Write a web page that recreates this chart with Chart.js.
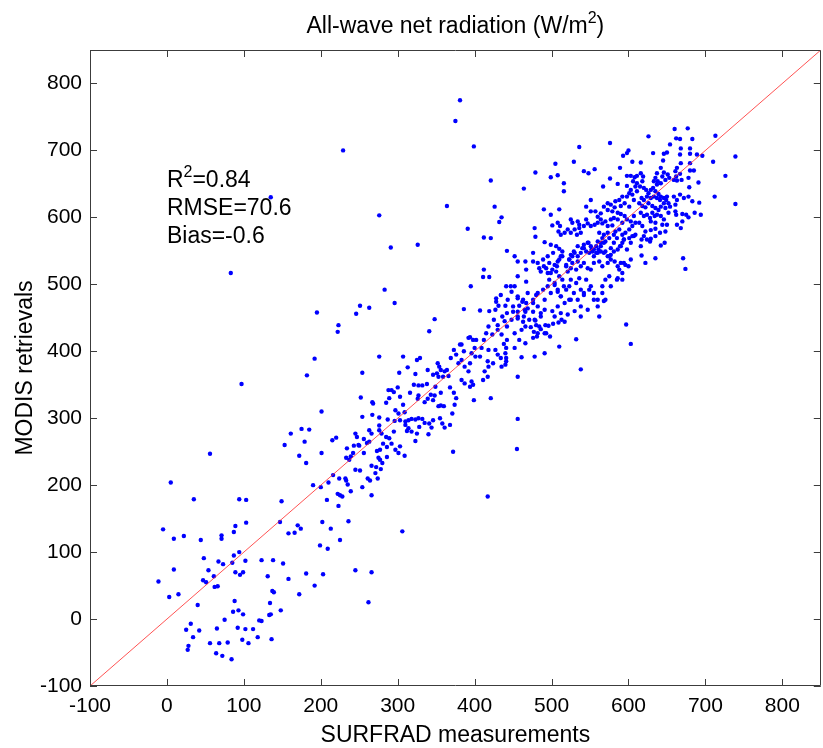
<!DOCTYPE html>
<html>
<head>
<meta charset="utf-8">
<script src="https://cdn.jsdelivr.net/npm/chart.js@4.4.1/dist/chart.umd.min.js"></script>
<style>
  html, body { margin: 0; padding: 0; background: #ffffff; }
  #wrap { width: 823px; height: 748px; }
</style>
</head>
<body>
<div id="wrap"><canvas id="c" width="823" height="748"></canvas></div>
<script>
// ---------------- DATA ----------------
const titleParts = ['All-wave net radiation (W/m', '2', ')'];
const xAxisTitle = 'SURFRAD measurements';
const yAxisTitle = 'MODIS retrievals';
const xTicks = [-100, 0, 100, 200, 300, 400, 500, 600, 700, 800];
const yTicks = [-100, 0, 100, 200, 300, 400, 500, 600, 700, 800];
const axisRange = [-100, 850];
const oneToOne = [-100, 850];
const statsLabels = [['R', '2', '=0.84'], ['RMSE=70.6', '', ''], ['Bias=-0.6', '', '']];

// low values (x < 270)
const surfradA = [201,161,175,185,153,179,172,181,201,215,
  220,56,5,35,94,103,149,190,200,210,
  216,208,222,-5,9,22,44,71,71,87,
  89,103,147,158,166,170,174,202,213,209,
  199,-11,9,3,15,48,54,67,73,47,
  51,61,62,66,85,87,94,102,89,95,
  99,123,138,151,131,158,137,139,181,192,
  203,172,40,88,86,93,99,134,133,135,
  148,120,123,75,25,31,42,34,65,92,
  102,112,118,136,98,106,56,68,79,28,
  27,64,72,84,245,266,262];
const modisA = [310,277,284,283,260,265,244,233,248,267,
  271,247,204,179,179,178,176,200,197,204,
  215,178,187,134,120,124,118,125,120,130,
  139,144,145,128,129,140,135,145,135,105,
  110,56,74,33,37,91,73,86,82,58,
  55,64,48,49,84,95,100,87,70,66,
  70,88,88,83,64,60,42,40,68,50,
  67,37,21,27,11,13,7,24,6,7,
  13,-2,-3,-1,-16,-7,-17,-27,-14,-13,
  -15,-15,-27,-30,-31,-36,-36,-36,-35,-40,
  -46,-51,-55,-60,73,70,25];

// scattered points above the line
const surfradB = [229,135,364,276,291,326,83,97,283,251,
  263,246,296,195,223,222,348,341,192,182,
  276,307,329,325,313,254,302,323,339,381,
  375,399,479,421,464,478,479,426,435,432,
  391,412,421];
const modisB = [700,630,617,603,555,559,517,351,492,468,
  465,456,472,458,439,429,448,430,389,364,
  392,392,390,387,376,368,368,366,372,775,
  744,706,667,655,643,584,571,616,600,593,
  583,570,569];

// cloud 220-380
const surfradC = [288,292,300,295,303,289,285,267,268,252,
  316,321,327,332,338,327,326,339,335,343,
  348,349,356,346,353,356,360,368,373,376,
  374,371,307,297,301,309,267,254,276,287,
  296,303,310,314,318,323,327,332,335,341,
  346,355,358,361,368,344,328,310,314,312,
  318,325,340,323,295,276,276,279,285,289,
  292,286,277,273,281,266,263,263,260,256,
  250,245,247,249,243,242,234,233,237,239,
  256,275,286,280,277,272,278,266,297,303,
  309,301,245,251,232,233,235,224,239,254,
  261,264,274,271,266,225,228,223,236,225,
  306,372];
const modisC = [342,342,346,339,332,330,323,324,322,331,
  338,350,349,349,351,334,329,329,324,335,
  334,347,338,327,318,319,318,346,338,330,
  320,307,320,312,307,309,305,302,301,298,
  296,297,295,297,299,298,300,299,293,292,
  297,300,292,286,290,286,287,290,285,281,
  280,277,276,266,280,289,282,277,272,270,
  262,257,253,251,262,277,282,265,263,269,
  259,277,272,260,259,248,255,241,238,243,
  248,241,242,233,238,227,224,229,253,258,
  244,248,223,222,210,207,201,210,191,197,
  210,207,210,218,185,185,183,169,146,118,
  131,250];

// cloud 340-480
const surfradD = [442,452,456,466,476,476,412,411,419,456,
  467,467,447,452,395,434,428,428,440,431,
  386,407,419,456,462,467,458,469,476,480,
  476,466,456,450,442,436,439,430,442,448,
  456,463,464,471,479,473,480,466,461,452,
  458,466,476,481,477,427,425,418,415,423,
  430,435,442,438,441,440,434,441,441,440,
  435,430,427,418,412,409,407,417,418,413,
  417,424,402,398,394,392,383,381,373,386,
  396,400,401,394,387,392,383,379,376,369,
  364,361,356,351,353,346,359,366,383,387,
  396,394,398,411,421,399,352,354,456,461,
  478,452];
const modisD = [550,542,534,534,547,534,522,511,511,512,
  504,522,497,497,497,484,479,474,468,468,
  463,461,460,479,474,472,468,464,477,484,
  459,459,459,459,457,452,445,439,437,447,
  449,444,452,447,446,436,439,437,432,427,
  417,412,420,422,429,462,447,437,427,425,
  432,425,417,411,405,397,390,390,385,380,
  377,395,402,402,417,405,392,385,377,370,
  362,382,417,417,421,420,410,410,402,400,
  397,405,392,382,377,370,387,382,395,390,
  372,370,372,367,362,365,362,363,357,352,
  355,347,350,357,330,327,382,377,362,391,
  392,405];

// cloud 480-612
const surfradE = [536,529,505,499,508,516,516,542,548,556,
  576,576,567,589,593,598,600,605,598,603,
  608,611,586,598,603,601,598,607,605,611,
  609,606,592,588,583,590,595,601,577,573,
  568,573,579,582,586,590,564,560,557,551,
  551,545,545,490,499,510,508,511,501,525,
  527,534,536,521,517,512,509,525,530,533,
  538,536,542,547,551,556,560,564,566,570,
  573,577,581,579,586,592,595,598,603,607,
  609,605,601,596,592,588,583,581,573,568,
  566,562,575,570,564,560,558,555,551,547,
  542,540,545,549,553,558,561,564,568,573,
  577,581,586,589,592,594,601,605,609,525,
  530,534,523,527,534,519,521,525,532,538,
  542,547,551,555,562,566,573,577,582,586,
  590,596,603,491,499,506,510,514,502,495,
  489,482,497,504,508,512,493,486,499,506,
  510,514,504,495,489,482,499,508,519,523,
  525,532,536,538,542,545,551,555,560,566,
  570,575,586,592,568,525,517,508,501,491,
  486,504,512,521,530,538,547,562,512];
const modisE = [705,683,680,660,663,651,639,669,666,672,
  711,658,646,674,692,696,700,683,662,662,
  660,662,650,647,641,636,631,626,634,639,
  646,654,631,626,624,617,621,616,619,621,
  616,611,609,615,607,605,606,601,609,626,
  609,616,597,612,604,612,592,587,588,597,
  592,594,589,582,577,574,579,577,582,574,
  577,584,587,591,587,589,592,597,591,594,
  587,597,599,588,597,592,602,597,594,602,
  592,587,582,577,574,582,579,574,577,574,
  569,577,569,564,562,564,557,552,557,562,
  559,554,549,547,549,547,552,549,547,542,
  544,549,552,557,562,567,569,572,574,544,
  547,542,537,532,534,527,519,524,522,527,
  532,524,522,532,534,527,532,537,534,527,
  532,529,537,563,559,557,553,549,547,542,
  537,532,532,529,534,542,524,519,517,519,
  512,507,502,497,492,487,487,489,492,497,
  507,502,509,492,487,507,497,487,477,497,
  507,512,509,507,475,477,472,467,460,462,
  452,452,457,455,460,452,462,452,482];

// cloud 611-740
const surfradF = [660,677,626,662,667,683,713,654,632,646,
  650,668,667,680,680,689,696,739,710,616,
  645,642,668,680,663,661,662,667,663,669,
  659,680,685,646,651,653,648,644,637,635,
  633,637,642,638,616,619,618,611,615,620,
  623,626,629,632,635,639,642,646,650,649,
  652,646,641,637,633,629,624,620,617,614,
  618,622,626,631,635,639,642,648,654,661,
  663,659,667,672,678,683,692,712,739,726,
  691,678,679,616,620,624,628,631,634,637,
  642,646,652,661,662,670,675,678,686,694,
  670,668,663,650,644,635,629,618,614,622,
  629,635,641,648,620,617,624,628,629,635,
  642,647,616,617,622,635,671,674];
const modisF = [732,733,721,718,717,717,722,709,696,695,
  697,703,694,703,695,694,692,691,683,682,
  685,674,681,681,674,669,661,665,655,656,
  656,670,670,667,664,659,656,661,666,659,
  654,649,651,654,666,661,654,651,646,644,
  641,636,641,644,639,635,631,629,631,626,
  621,621,626,629,631,629,631,626,629,621,
  617,615,621,617,614,611,616,614,616,619,
  626,631,634,629,631,624,622,631,620,662,
  652,659,645,607,602,604,599,607,602,604,
  602,597,607,609,604,605,604,600,607,604,
  594,584,589,589,589,592,594,587,592,579,
  581,583,577,579,572,567,567,564,568,572,
  558,562,557,543,532,539,539,523];

// scattered points below the line
const surfradG = [417,455,456,538,603,597,510,491,532,498,
  493,482,486,492,496,502,509,513,517];
const modisG = [183,254,299,373,411,440,407,397,418,422,
  427,427,433,439,438,441,443,447,444];

// dense core 440-610
const surfradH = [484,490,495,501,507,510,514,519,523,527,
  529,534,538,542,548,552,555,560,564,568,
  570,575,577,581,585,590,594,598,603,607,
  497,504,508,512,516,523,529,534,538,542,
  549,555,560,566,570,577,585,592,600,594,
  588,441,448,456,463,469,476,482,486,491,
  465,456,450,443,478,484,491];
const modisH = [524,527,517,522,527,537,542,529,537,542,
  549,557,547,554,562,552,542,547,557,562,
  549,542,554,562,569,557,567,552,562,572,
  507,499,492,482,497,477,487,477,467,484,
  492,477,467,487,477,497,507,517,527,532,
  522,497,489,482,477,487,472,467,457,477,
  462,452,467,477,447,437,427];

// ---------------- BUILD ----------------
const surfrad = [].concat(surfradA, surfradB, surfradC, surfradD, surfradE, surfradF, surfradG, surfradH);
const modis = [].concat(modisA, modisB, modisC, modisD, modisE, modisF, modisG, modisH);
const points = surfrad.map((x, i) => ({ x: x, y: modis[i] }));
const refLine = oneToOne.map(v => ({ x: v, y: v }));

const FONT = "'Liberation Sans', Arial, Helvetica, sans-serif";

// draws text with a raised, smaller middle part (superscript)
function drawSupText(ctx, parts, x, y, size, align) {
  const big = size + 'px ' + FONT;
  const small = Math.round(size * 0.68) + 'px ' + FONT;
  ctx.font = big; const w0 = ctx.measureText(parts[0]).width;
  ctx.font = small; const w1 = parts[1] ? ctx.measureText(parts[1]).width : 0;
  ctx.font = big; const w2 = parts[2] ? ctx.measureText(parts[2]).width : 0;
  let sx = align === 'center' ? x - (w0 + w1 + w2) / 2 : x;
  ctx.textAlign = 'left';
  ctx.textBaseline = 'alphabetic';
  ctx.font = big; ctx.fillText(parts[0], sx, y);
  if (parts[1]) { ctx.font = small; ctx.fillText(parts[1], sx + w0, y - size * 0.42); }
  if (parts[2]) { ctx.font = big; ctx.fillText(parts[2], sx + w0 + w1, y); }
}

const framePlugin = {
  id: 'frame',
  afterDatasetsDraw(chart) {
    const { ctx, chartArea: a, scales } = chart;
    const xs = scales.x, ys = scales.y;
    const L = 7;
    ctx.save();
    ctx.strokeStyle = '#3c3c3c';
    ctx.lineWidth = 1;
    ctx.beginPath();
    ctx.rect(Math.round(a.left) + 0.5, Math.round(a.top) + 0.5,
             Math.round(a.right - a.left) - 1, Math.round(a.bottom - a.top) - 1);
    xTicks.forEach(v => {
      const p = Math.round(xs.getPixelForValue(v)) + 0.5;
      ctx.moveTo(p, a.bottom); ctx.lineTo(p, a.bottom - L);
      ctx.moveTo(p, a.top); ctx.lineTo(p, a.top + L);
    });
    yTicks.forEach(v => {
      const p = Math.round(ys.getPixelForValue(v)) + 0.5;
      ctx.moveTo(a.left, p); ctx.lineTo(a.left + L, p);
      ctx.moveTo(a.right, p); ctx.lineTo(a.right - L, p);
    });
    ctx.stroke();
    ctx.fillStyle = '#000';
    // chart title above the plot area
    drawSupText(ctx, titleParts, (a.left + a.right) / 2, a.top - 17, 23, 'center');
    // statistics text, anchored in data units
    const anchorX = 0;
    const anchorY = [646, 604, 562];
    statsLabels.forEach((p, i) => {
      drawSupText(ctx, p, xs.getPixelForValue(anchorX), ys.getPixelForValue(anchorY[i]), 23, 'left');
    });
    ctx.restore();
  }
};

new Chart(document.getElementById('c'), {
  type: 'scatter',
  data: {
    datasets: [
      {
        data: points,
        backgroundColor: '#0000ff',
        borderWidth: 0,
        pointRadius: 2.2,
        pointHoverRadius: 2.2,
        pointStyle: 'circle',
        order: 2
      },
      {
        type: 'line',
        data: refLine,
        borderColor: 'rgba(255,40,40,0.8)',
        borderWidth: 1,
        pointRadius: 0,
        fill: false,
        tension: 0,
        order: 1
      }
    ]
  },
  options: {
    responsive: false,
    animation: false,
    devicePixelRatio: 1,
    layout: { padding: { top: 50, right: 1, bottom: 0, left: 0 } },
    plugins: {
      legend: { display: false },
      tooltip: { enabled: false },
      title: { display: false }
    },
    scales: {
      x: {
        type: 'linear',
        min: axisRange[0],
        max: axisRange[1],
        grid: { display: false, drawTicks: false },
        border: { display: false },
        ticks: {
          stepSize: 100,
          includeBounds: false,
          maxRotation: 0,
          autoSkip: false,
          padding: 8,
          color: '#000',
          font: { family: FONT, size: 21 }
        },
        title: {
          display: true,
          text: xAxisTitle,
          color: '#000',
          font: { family: FONT, size: 23, lineHeight: 1 },
          padding: { top: 0, bottom: 1 }
        },
        afterFit(s) { s.height = 62; }
      },
      y: {
        type: 'linear',
        min: axisRange[0],
        max: axisRange[1],
        grid: { display: false, drawTicks: false },
        border: { display: false },
        ticks: {
          stepSize: 100,
          includeBounds: false,
          autoSkip: false,
          padding: 8,
          color: '#000',
          font: { family: FONT, size: 21 }
        },
        title: {
          display: true,
          text: yAxisTitle,
          color: '#000',
          font: { family: FONT, size: 23, lineHeight: 1 },
          padding: { top: 14, bottom: 0 }
        },
        afterFit(s) { s.width = 90; }
      }
    }
  },
  plugins: [framePlugin]
});
</script>
</body>
</html>
